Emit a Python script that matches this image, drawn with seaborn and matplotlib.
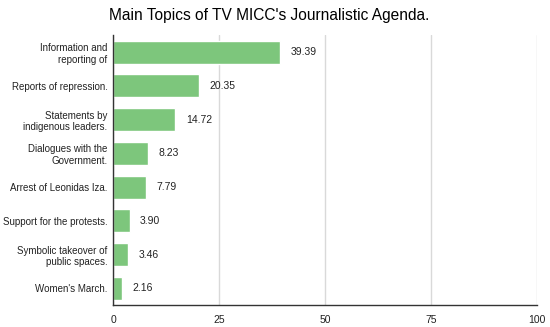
import seaborn as sns
import matplotlib.pyplot as plt
import pandas as pd

topics = ["Information and\nreporting of", "Reports of repression.", "Statements by\nindigenous leaders.",
          "Dialogues with the\nGovernment.", "Arrest of Leonidas Iza.", "Support for the protests.",
          "Symbolic takeover of\npublic spaces.", "Women's March."]
values = [39.39, 20.35, 14.72, 8.23, 7.79, 3.90, 3.46, 2.16]

df = pd.DataFrame({"topic": topics, "value": values})

sns.set_style("white")
plt.rcParams["font.family"] = ["Liberation Sans", "DejaVu Sans"]

fig = plt.figure(figsize=(5.5, 3.27), dpi=100)
ax = fig.add_axes([0.2055, 0.067, 0.7705, 0.825])

sns.barplot(data=df, x="value", y="topic", color="#7dc67c", width=0.68, ax=ax, saturation=1)

for i, v in enumerate(values):
    ax.text(v + 2.5, i, f"{v:.2f}", va="center", ha="left", fontsize=7.5, color="#222222")

ax.set_xlim(0, 100)
ax.set_xticks([0, 25, 50, 75, 100])
ax.xaxis.grid(True, color="#d9d9d9", linewidth=1)
ax.set_axisbelow(True)
ax.set_xlabel("")
ax.set_ylabel("")
ax.tick_params(axis="x", labelsize=7.5, length=0, colors="#222222", pad=7)
ax.tick_params(axis="y", labelsize=7, length=0, colors="#222222", pad=4)
for lab in ax.get_yticklabels():
    lab.set_multialignment("right")
for s in ["top", "right"]:
    ax.spines[s].set_visible(False)
for s in ["left", "bottom"]:
    ax.spines[s].set_color("#333333")
    ax.spines[s].set_linewidth(1)

fig.suptitle("Main Topics of TV MICC's Journalistic Agenda.", fontsize=11.2, x=0.49, y=0.975, color="black")
fig.savefig("out.png", dpi=100)
